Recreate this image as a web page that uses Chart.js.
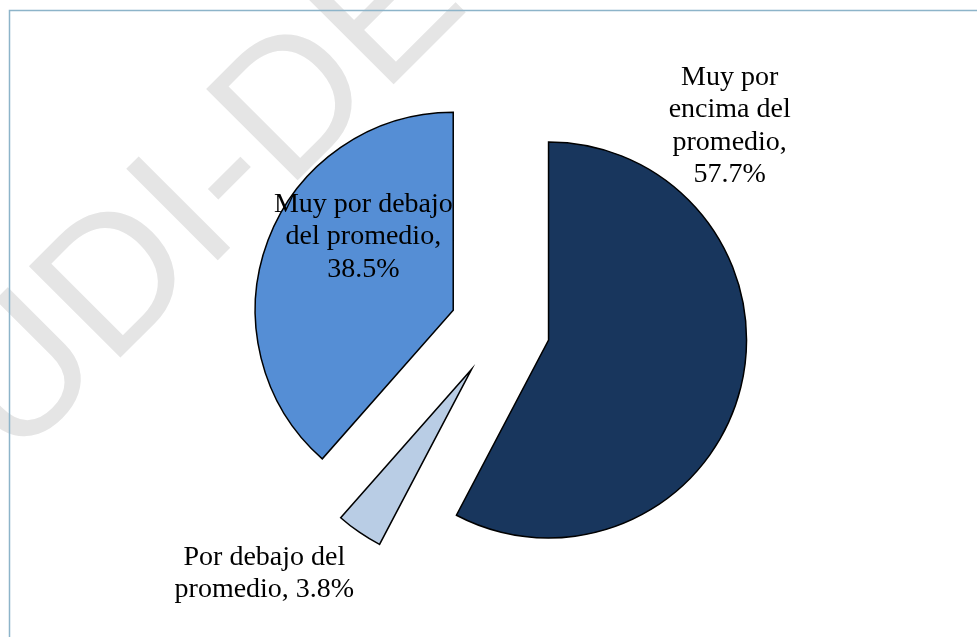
<!DOCTYPE html>
<html>
<head>
<meta charset="utf-8">
<script src="https://cdn.jsdelivr.net/npm/chart.js@4/dist/chart.umd.min.js"></script>
<style>
  html, body { margin: 0; padding: 0; background: #fff; }
  #myChart { display: block; }
</style>
</head>
<body>
<canvas id="myChart" width="977" height="637"></canvas>
<script>
// data
const categories = ["Muy por encima del promedio", "Por debajo del promedio", "Muy por debajo del promedio"];
const percents = [57.7, 3.8, 38.5];
const sliceColors = ["#18365d", "#b9cde5", "#558ed5"];
// label lines, as shown in the picture
const labelLines = [
  ["Muy por", "encima del", "promedio,", "57.7%"],
  ["Por debajo del", "promedio, 3.8%"],
  ["Muy por debajo", "del promedio,", "38.5%"],
];
// where each label sits, as a fraction of the radius from the pie centre
const labelSpots = [[1.16, -1.02], [-1.19, 1.24], [-0.69, -0.46]];

// Chart.js only moves an offset slice by offset/4 and also grows its radius,
// the excel look is a plain shift of the whole slice, so do that instead
const baseArcDraw = Chart.ArcElement.prototype.draw;
Chart.ArcElement.prototype.draw = function (c) {
  const opts = this.options;
  const o = opts.offset || 0;
  const mid = (this.startAngle + this.endAngle) / 2;
  this.options = Object.assign({}, opts, { offset: 0 });
  c.save();
  c.translate(Math.cos(mid) * o, Math.sin(mid) * o);
  baseArcDraw.call(this, c);
  c.restore();
  this.options = opts;
};

const ctx = document.getElementById("myChart").getContext("2d");

// white page, frame lines and the grey watermark behind the pie
const background = {
  id: "background",
  beforeDraw(chart) {
    const c = chart.ctx;
    c.save();
    c.fillStyle = "#fff";
    c.fillRect(0, 0, chart.width, chart.height);

    // watermark
    c.translate(224, 254);
    c.rotate(-Math.PI / 4);
    c.font = "188px 'Liberation Sans'";
    c.fillStyle = "#e5e5e5";
    c.textBaseline = "alphabetic";
    const before = c.measureText("UD").width + c.measureText("I").width / 2;
    c.fillText("UDI-DE", -before, 0);
    c.restore();

    c.save();
    c.strokeStyle = "#8db4c9";
    c.lineWidth = 1.5;
    c.beginPath();
    c.moveTo(9.5, chart.height);
    c.lineTo(9.5, 10.5);
    c.lineTo(chart.width, 10.5);
    c.stroke();
    c.restore();
  },
};

// slice labels
const sliceLabels = {
  id: "sliceLabels",
  afterDatasetsDraw(chart) {
    const c = chart.ctx;
    const arcs = chart.getDatasetMeta(0).data;
    c.save();
    c.font = "28px 'Liberation Serif'";
    c.fillStyle = "#000";
    c.textAlign = "center";
    c.textBaseline = "middle";
    const lh = 32.5;
    arcs.forEach((arc, i) => {
      const r = arc.outerRadius;
      const cx = arc.x + labelSpots[i][0] * r;
      const cy = arc.y + labelSpots[i][1] * r;
      const lines = labelLines[i];
      lines.forEach((t, k) => {
        c.fillText(t, cx, cy + (k - (lines.length - 1) / 2) * lh);
      });
    });
    c.restore();
  },
};

const myChart = new Chart(ctx, {
  type: "pie",
  data: {
    labels: categories,
    datasets: [
      {
        data: percents,
        backgroundColor: sliceColors,
        borderColor: "#000",
        borderWidth: 1.5,
        borderJoinStyle: "miter",
        offset: 50,
      },
    ],
  },
  options: {
    responsive: false,
    animation: false,
    events: [],
    radius: 198,
    layout: { padding: { left: 23, top: 19, right: 0, bottom: 0 } },
    plugins: {
      legend: { display: false },
      tooltip: { enabled: false },
    },
  },
  plugins: [background, sliceLabels],
});
</script>
</body>
</html>
